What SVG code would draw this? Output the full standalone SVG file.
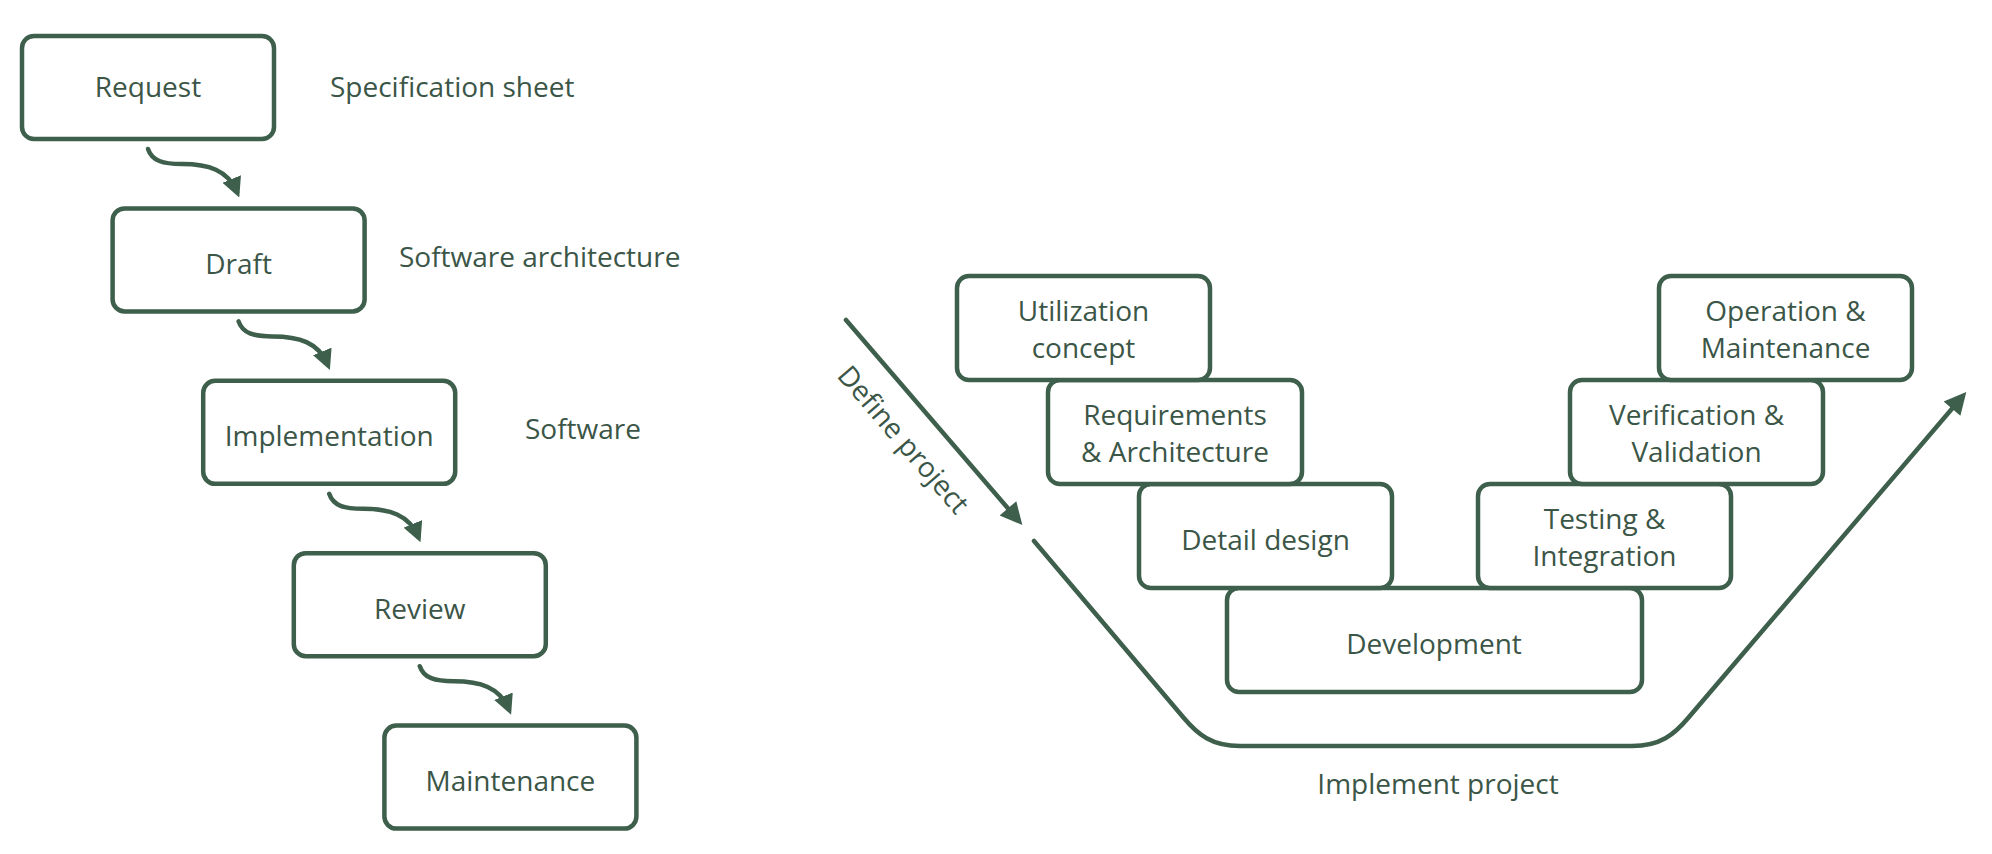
<svg xmlns="http://www.w3.org/2000/svg" width="1992" height="854" viewBox="0 0 1992 854">
<style>
.box{fill:#fff;stroke:#3d5f4b;stroke-width:4.5}
.t{font-family:"Open Sans","Noto Sans",sans-serif;font-size:28px;font-weight:500;fill:#3b5647;text-anchor:middle}
.l{font-family:"Open Sans","Noto Sans",sans-serif;font-size:28px;font-weight:500;fill:#3b5647}
.c{fill:none;stroke:#3d5f4b;stroke-width:4.5;stroke-linecap:round}
</style>
<defs>
<marker id="ah" viewBox="0 0 10 10" refX="7" refY="5" markerWidth="20" markerHeight="20" markerUnits="userSpaceOnUse" orient="auto">
<path d="M0,0 L10,5 L0,10 z" fill="#3d5f4b"/>
</marker>
<marker id="ah2" viewBox="0 0 10 10" refX="7" refY="5" markerWidth="24" markerHeight="22" markerUnits="userSpaceOnUse" orient="auto">
<path d="M0,0 L10,5 L0,10 z" fill="#3d5f4b"/>
</marker>
</defs>
<rect width="1992" height="854" fill="#fff"/>
<g id="connectors">
<path class="c" marker-end="url(#ah)" d="M148 149 C152 161 163 164 182 164 C208 164 228 170 237 192"/>
<path class="c" marker-end="url(#ah)" transform="translate(90.6 172.4)" d="M148 149 C152 161 163 164 182 164 C208 164 228 170 237 192"/>
<path class="c" marker-end="url(#ah)" transform="translate(181.2 344.8)" d="M148 149 C152 161 163 164 182 164 C208 164 228 170 237 192"/>
<path class="c" marker-end="url(#ah)" transform="translate(271.8 517.2)" d="M148 149 C152 161 163 164 182 164 C208 164 228 170 237 192"/>
<path class="c" marker-end="url(#ah2)" d="M846 320 L1018 520"/>
<path class="c" marker-end="url(#ah2)" d="M1034 541 L1183 717 C1198 735 1212 746 1240 746 L1632 746 C1660 746 1674 735 1689 717 L1962 397"/>
</g>
<g id="request"><rect class="box" x="22" y="36" width="252" height="103" rx="12"/><text class="t" x="148" y="97">Request</text></g>
<g id="draft"><rect class="box" x="112.6" y="208.4" width="252" height="103" rx="12"/><text class="t" x="238.6" y="274">Draft</text></g>
<g id="implementation"><rect class="box" x="203.2" y="380.8" width="252" height="103" rx="12"/><text class="t" x="329.2" y="446">Implementation</text></g>
<g id="review"><rect class="box" x="293.8" y="553.2" width="252" height="103" rx="12"/><text class="t" x="419.8" y="619">Review</text></g>
<g id="maintenance"><rect class="box" x="384.4" y="725.6" width="252" height="103" rx="12"/><text class="t" x="510.4" y="791">Maintenance</text></g>
<g id="side-labels">
<text class="l" x="330" y="97">Specification sheet</text>
<text class="l" x="399" y="267">Software architecture</text>
<text class="l" x="525" y="439">Software</text>
</g>
<g id="development"><rect class="box" x="1227" y="588" width="415" height="104" rx="12"/><text class="t" x="1434" y="654">Development</text></g>
<g id="detail-design"><rect class="box" x="1139" y="484" width="253" height="104" rx="12"/><text class="t" x="1265.5" y="550">Detail design</text></g>
<g id="testing"><rect class="box" x="1478" y="484" width="253" height="104" rx="12"/><text class="t" x="1604.5" y="529">Testing &amp;</text><text class="t" x="1604.5" y="566">Integration</text></g>
<g id="requirements"><rect class="box" x="1048" y="380" width="254" height="104" rx="12"/><text class="t" x="1175" y="425">Requirements</text><text class="t" x="1175" y="462">&amp; Architecture</text></g>
<g id="verification"><rect class="box" x="1570" y="380" width="253" height="104" rx="12"/><text class="t" x="1696.5" y="425">Verification &amp;</text><text class="t" x="1696.5" y="462">Validation</text></g>
<g id="utilization"><rect class="box" x="957" y="276" width="253" height="104" rx="12"/><text class="t" x="1083.5" y="321">Utilization</text><text class="t" x="1083.5" y="358">concept</text></g>
<g id="operation"><rect class="box" x="1659" y="276" width="253" height="104" rx="12"/><text class="t" x="1785.5" y="321">Operation &amp;</text><text class="t" x="1785.5" y="358">Maintenance</text></g>
<g id="v-labels">
<text class="t" transform="translate(896 446) rotate(49.3)">Define project</text>
<text class="t" x="1438" y="794">Implement project</text>
</g>
</svg>
